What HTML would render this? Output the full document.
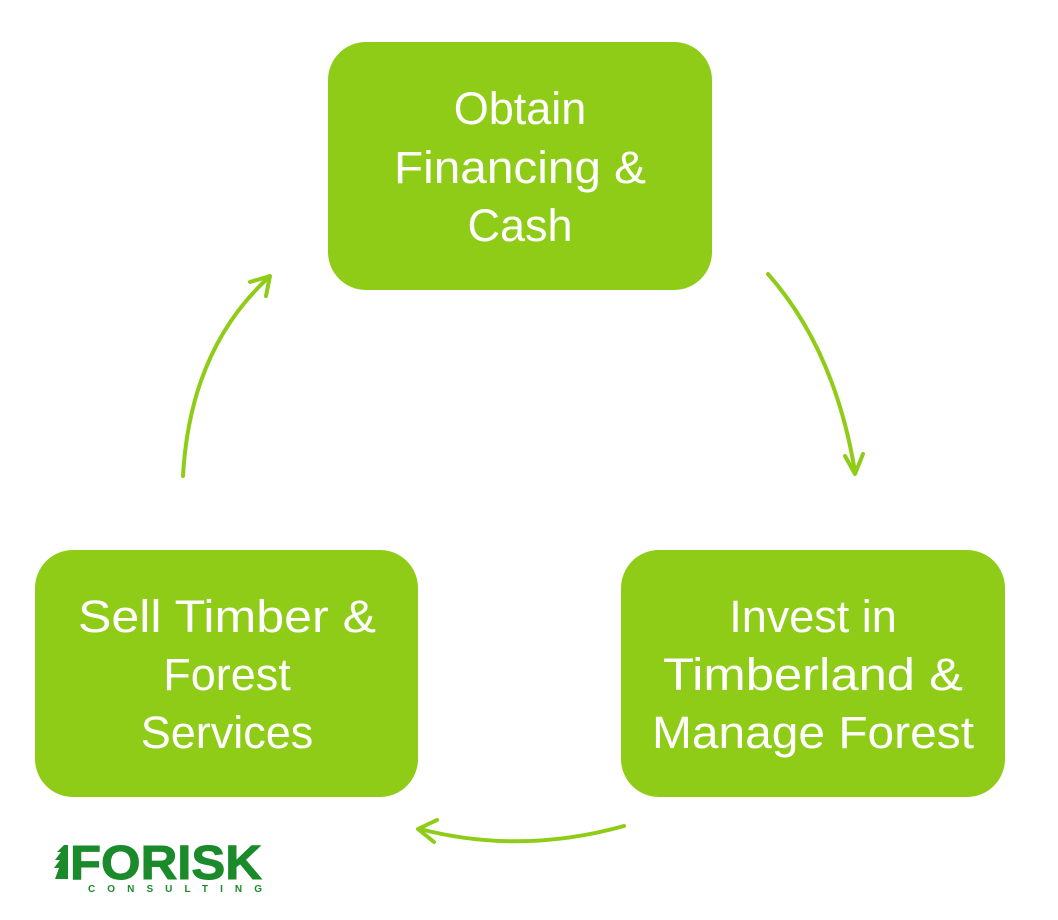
<!DOCTYPE html>
<html><head><meta charset="utf-8"><style>
html,body{margin:0;padding:0;background:#fff;width:1058px;height:920px;overflow:hidden}
</style></head><body>
<svg width="1058" height="920" viewBox="0 0 1058 920" xmlns="http://www.w3.org/2000/svg">
<g fill="#8fcc17">
<rect x="328" y="42" width="384" height="248" rx="38"/>
<rect x="35" y="550" width="383" height="247" rx="38"/>
<rect x="621" y="550" width="384" height="247" rx="38"/>
</g>
<g font-family="Liberation Sans, sans-serif" font-size="45" fill="#fff" text-anchor="middle">
<text x="520" y="124">Obtain</text>
<text x="520" y="183" textLength="252" lengthAdjust="spacingAndGlyphs">Financing &amp;</text>
<text x="520" y="241">Cash</text>
<text x="227" y="632" textLength="298" lengthAdjust="spacingAndGlyphs">Sell Timber &amp;</text>
<text x="227" y="690">Forest</text>
<text x="227" y="748">Services</text>
<text x="813" y="632">Invest in</text>
<text x="813" y="690" textLength="300" lengthAdjust="spacingAndGlyphs">Timberland &amp;</text>
<text x="813" y="748" textLength="322" lengthAdjust="spacingAndGlyphs">Manage Forest</text>
</g>
<g fill="none" stroke="#8fcc17" stroke-width="4" stroke-linecap="round" stroke-linejoin="round">
<path d="M768 274 Q835 350 855 472"/>
<path d="M845 456 L855 474 L863 454"/>
<path d="M624 826 Q520 855 420 829"/>
<path d="M437 820 L418 829 L434 842"/>
<path d="M183 476 Q190 350 268 278"/>
<path d="M250 282 L270 276 L266 296"/>
</g>
<text x="166" y="879" font-family="Liberation Sans, sans-serif" font-weight="bold" font-size="48" fill="#1a8a2a" stroke="#1a8a2a" stroke-width="1" text-anchor="middle" textLength="192" lengthAdjust="spacingAndGlyphs">FORISK</text>
<path d="M64 845 L57 852 L61 852 L55 860 L60 860 L54 868 L59 868 L55 879 L68 879 L68 845 Z" fill="#1a8a2a"/>
<text x="175" y="892" font-family="Liberation Sans, sans-serif" font-weight="bold" font-size="10" fill="#1a8a2a" text-anchor="middle" textLength="174" lengthAdjust="spacing">CONSULTING</text>
</svg>
</body></html>
